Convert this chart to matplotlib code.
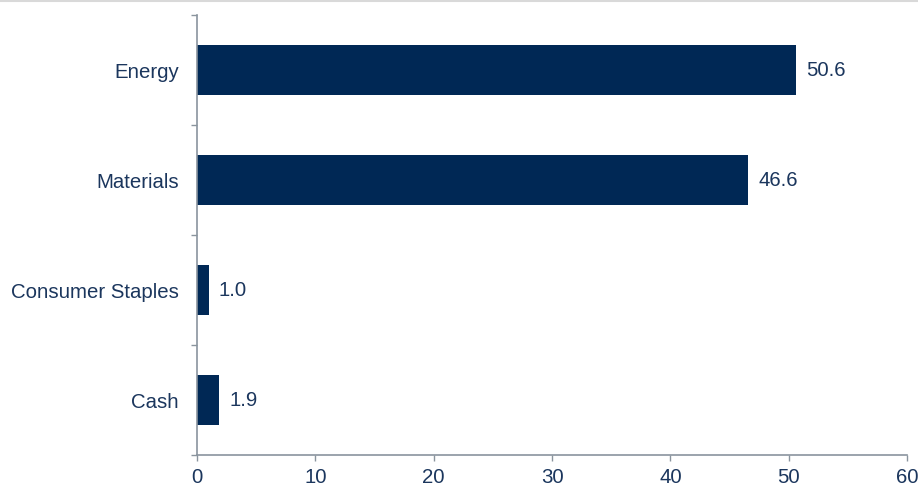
import matplotlib.pyplot as plt
from matplotlib.lines import Line2D
import numpy as np

plt.rcParams['font.family'] = ['Liberation Sans', 'DejaVu Sans']

sectors = ['Energy', 'Materials', 'Consumer Staples', 'Cash']
weights = [50.6, 46.6, 1.0, 1.9]
x_ticks = [0, 10, 20, 30, 40, 50, 60]

bar_color = '#002855'
text_color = '#1b365d'
axis_color = '#8a949e'

fig = plt.figure(figsize=(9.18, 4.86), dpi=100)
ax = fig.add_axes([197 / 918, 31 / 486, 710 / 918, 440 / 486])

pos = np.arange(len(sectors))
ax.barh(pos, weights, height=0.455, color=bar_color, zorder=2)

# value labels at the end of each bar
for p, w in zip(pos, weights):
    ax.text(w + 0.85, p, f'{w:.1f}', va='center', ha='left',
            fontsize=14.7, color=text_color)

ax.set_xlim(0, 60)
ax.set_ylim(len(sectors) - 0.5, -0.5)
ax.set_xticks(x_ticks)
ax.set_yticks(pos)
ax.set_yticklabels(sectors)
ax.set_yticks(np.arange(len(sectors) + 1) - 0.5, minor=True)

ax.tick_params(axis='y', which='major', length=0, pad=13,
               labelsize=14.7, labelcolor=text_color)
ax.tick_params(axis='y', which='minor', length=4.5, width=1,
               color=axis_color, direction='out')
ax.tick_params(axis='x', length=4.5, width=1, color=axis_color,
               direction='out', pad=5, labelsize=14.7, labelcolor=text_color)

for side in ['top', 'right']:
    ax.spines[side].set_visible(False)
for side in ['left', 'bottom']:
    ax.spines[side].set_color(axis_color)
    ax.spines[side].set_linewidth(1.2)

# thin grey rule along the top edge
fig.add_artist(Line2D([0, 1], [0.998, 0.998], transform=fig.transFigure,
                      color='#d9d9d9', linewidth=1.5))

fig.savefig('out.png', dpi=100)
